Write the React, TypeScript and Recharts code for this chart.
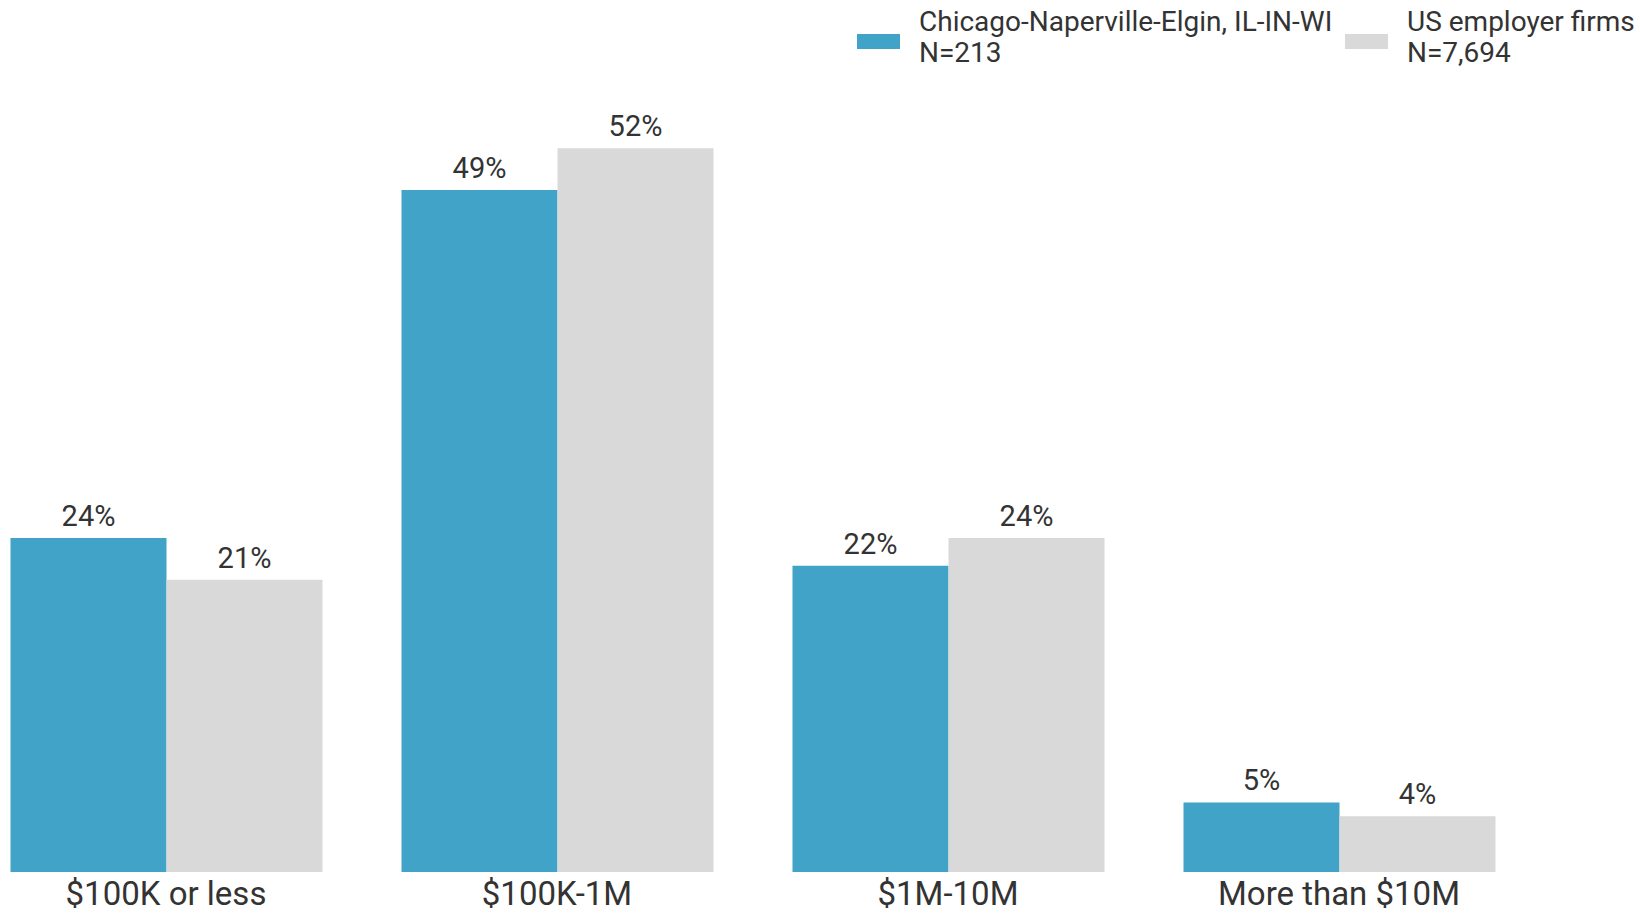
import React from 'react';
import { BarChart, Bar, XAxis, YAxis, LabelList } from 'recharts';

const categories = ['$100K or less', '$100K-1M', '$1M-10M', 'More than $10M'];
const chicagoValues = [24, 49, 22, 5];
const usValues = [21, 52, 24, 4];
const seriesNames = ['Chicago-Naperville-Elgin, IL-IN-WI', 'US employer firms'];
const seriesCounts = ['N=213', 'N=7,694'];
const colors = ['#42A3C8', '#D9D9D9'];

const data = categories.map((c, i) => ({ name: c, chicago: chicagoValues[i], us: usValues[i] }));

const FONT = 'Roboto, "Noto Sans", sans-serif';

const LegendBlock = () => {
  const items = [
    { swatchLeft: 857, textLeft: 919 },
    { swatchLeft: 1345, textLeft: 1407 },
  ];
  return (
    <div style={{ position: 'absolute', left: 0, top: 0, width: 1640, height: 75, fontFamily: FONT }}>
      {items.map((it, i) => (
        <React.Fragment key={i}>
          <div style={{ position: 'absolute', left: it.swatchLeft, top: 34, width: 43, height: 15, background: colors[i] }} />
          <div style={{ position: 'absolute', left: it.textLeft, top: 6, fontSize: 28, lineHeight: '31px', color: '#333', whiteSpace: 'nowrap', textAlign: 'left' }}>
            <div>{seriesNames[i]}</div>
            <div>{seriesCounts[i]}</div>
          </div>
        </React.Fragment>
      ))}
    </div>
  );
};

export default function App() {
  return (
    <div style={{ position: 'absolute', left: 0, top: 0, width: 1640, height: 914, background: '#fff' }}>
      <BarChart
        width={1640}
        height={914}
        data={data}
        margin={{ top: 37, right: 105.5, left: -29.5, bottom: 0 }}
        barCategoryGap={40}
        barGap={0}
      >
        <XAxis
          dataKey="name"
          axisLine={false}
          tickLine={false}
          tickSize={0}
          tickMargin={10}
          height={42}
          interval={0}
          tick={{ fill: '#333', fontSize: 33, fontFamily: FONT }}
        />
        <YAxis hide domain={[0, 60]} />
        <Bar dataKey="chicago" fill={colors[0]} isAnimationActive={false}>
          <LabelList dataKey="chicago" position="top" offset={12} formatter={(v: any) => `${v}%`} fill="#333" fontSize={29} fontFamily={FONT} />
        </Bar>
        <Bar dataKey="us" fill={colors[1]} isAnimationActive={false}>
          <LabelList dataKey="us" position="top" offset={12} formatter={(v: any) => `${v}%`} fill="#333" fontSize={29} fontFamily={FONT} />
        </Bar>
      </BarChart>
      <LegendBlock />
    </div>
  );
}
